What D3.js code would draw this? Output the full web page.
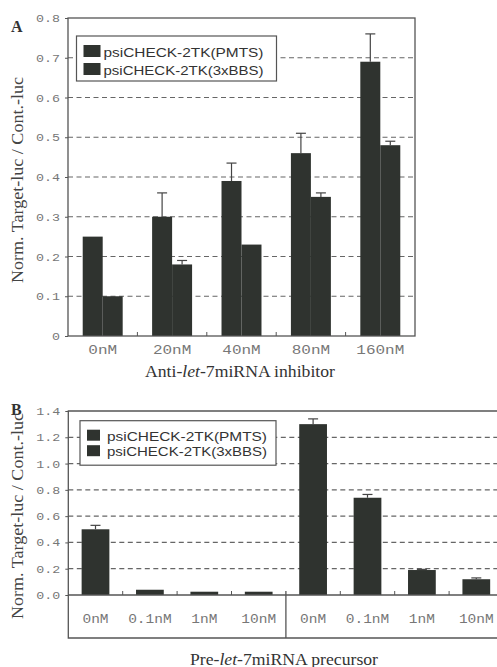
<!DOCTYPE html>
<html>
<head>
<meta charset="utf-8">
<script src="https://cdn.jsdelivr.net/npm/d3@7"></script>
<style>
  body { margin: 0; background: #fff; }
  svg { display: block; }
  .tick text { fill: #777; font-family: "Liberation Mono", monospace; }
</style>
</head>
<body>
<svg id="fig" width="497" height="667"></svg>
<script>
// panel A data
var catsA = ["0nM", "20nM", "40nM", "80nM", "160nM"];
var seriesNames = ["psiCHECK-2TK(PMTS)", "psiCHECK-2TK(3xBBS)"];
var pmtsA = [0.25, 0.30, 0.39, 0.46, 0.69];
var pmtsErrA = [0, 0.06, 0.045, 0.05, 0.07];
var bbsA = [0.10, 0.18, 0.23, 0.35, 0.48];
var bbsErrA = [0, 0.01, 0, 0.01, 0.01];
var ticksA = [0, 0.1, 0.2, 0.3, 0.4, 0.5, 0.6, 0.7, 0.8];

// panel B data (left four = PMTS, right four = 3xBBS)
var catsB = ["0nM", "0.1nM", "1nM", "10nM", "0nM", "0.1nM", "1nM", "10nM"];
var valsB = [0.50, 0.04, 0.025, 0.025, 1.30, 0.74, 0.19, 0.12];
var errB = [0.03, 0, 0, 0, 0.04, 0.025, 0.005, 0.01];
var ticksB = [0, 0.2, 0.4, 0.6, 0.8, 1.0, 1.2, 1.4];

var barColor = "#2f332f";
var lineColor = "#555";
var svg = d3.select("#fig");

function grid(g, y, ticks, x0, x1) {
  g.selectAll(".grid").data(ticks.slice(1, -1)).enter().append("line")
    .attr("x1", x0).attr("x2", x1)
    .attr("y1", function(d) { return y(d); }).attr("y2", function(d) { return y(d); })
    .attr("stroke", "#666").attr("stroke-width", 1.2).attr("stroke-dasharray", "5,3.5");
}

function legend(g, x, y, w, h, sq, gap) {
  g.append("rect").attr("x", x).attr("y", y).attr("width", w).attr("height", h)
    .attr("fill", "#fff").attr("stroke", lineColor).attr("stroke-width", 1.2);
  seriesNames.forEach(function(s, i) {
    g.append("rect").attr("x", x + 7).attr("y", y + 9 + i * gap)
      .attr("width", sq[0]).attr("height", sq[1]).attr("fill", barColor);
    g.append("text").attr("x", x + 27).attr("y", y + 9 + sq[1] + i * gap)
      .attr("font-family", "Liberation Sans, Arial, sans-serif").attr("font-size", 13.5)
      .attr("fill", "#333").attr("textLength", 160).attr("lengthAdjust", "spacingAndGlyphs")
      .text(s);
  });
}

function yLabel(cy) {
  svg.append("text").attr("transform", "translate(23," + cy + ") rotate(-90)")
    .attr("text-anchor", "middle").attr("font-family", "Liberation Serif, serif")
    .attr("font-size", 16).attr("fill", "#444")
    .attr("textLength", 206).attr("lengthAdjust", "spacingAndGlyphs")
    .text("Norm. Target-luc / Cont.-luc");
}

function xTitle(cx, yy, pre, post, len) {
  var t = svg.append("text").attr("x", cx).attr("y", yy).attr("text-anchor", "middle")
    .attr("font-family", "Liberation Serif, serif").attr("font-size", 16).attr("fill", "#333")
    .attr("textLength", len).attr("lengthAdjust", "spacingAndGlyphs");
  t.append("tspan").text(pre);
  t.append("tspan").attr("font-style", "italic").text("let");
  t.append("tspan").text(post);
}

function errBars(g, data, xc, y) {
  var e = g.selectAll(".err").data(data.filter(function(d) { return d.e > 0; })).enter();
  e.append("line").attr("x1", xc).attr("x2", xc)
    .attr("y1", function(d) { return y(d.v); }).attr("y2", function(d) { return y(d.v + d.e); })
    .attr("stroke", "#444").attr("stroke-width", 1.2);
  e.append("line").attr("x1", function(d) { return xc(d) - 5; }).attr("x2", function(d) { return xc(d) + 5; })
    .attr("y1", function(d) { return y(d.v + d.e); }).attr("y2", function(d) { return y(d.v + d.e); })
    .attr("stroke", "#444").attr("stroke-width", 1.2);
}

// ---------- Panel A ----------
(function() {
  var L = 68, R = 415, T = 18, B = 336;
  var x = d3.scaleBand().domain(catsA).range([L, R]).paddingInner(0.424).paddingOuter(0.212);
  var xs = d3.scaleBand().domain([0, 1]).range([0, x.bandwidth()]);
  var y = d3.scaleLinear().domain([0, 0.8]).range([B, T]);
  var g = svg.append("g");

  grid(g, y, ticksA, L, R);
  legend(g, 76.5, 36, 200, 45, [17, 12], 18);

  var data = [];
  catsA.forEach(function(c, i) {
    data.push({c: c, s: 0, v: pmtsA[i], e: pmtsErrA[i]});
    data.push({c: c, s: 1, v: bbsA[i], e: bbsErrA[i]});
  });
  g.selectAll(".bar").data(data).enter().append("rect")
    .attr("x", function(d) { return x(d.c) + xs(d.s); })
    .attr("y", function(d) { return y(d.v); })
    .attr("width", xs.bandwidth())
    .attr("height", function(d) { return B - y(d.v); })
    .attr("fill", barColor);
  errBars(g, data, function(d) { return x(d.c) + xs(d.s) + xs.bandwidth() / 2; }, y);

  // frame
  g.append("rect").attr("x", L).attr("y", T).attr("width", R - L).attr("height", B - T)
    .attr("fill", "none").attr("stroke", lineColor).attr("stroke-width", 1.3);
  // small ticks between groups
  g.selectAll(".sep").data(catsA.slice(1)).enter().append("line")
    .attr("x1", function(d) { return x(d) - x.step() * x.paddingInner() / 2; })
    .attr("x2", function(d) { return x(d) - x.step() * x.paddingInner() / 2; })
    .attr("y1", B).attr("y2", B - 4).attr("stroke", lineColor);

  var ya = g.append("g").attr("transform", "translate(" + L + ",0)")
    .call(d3.axisLeft(y).tickValues(ticksA).tickSize(3).tickPadding(5)
      .tickFormat(function(d) { return d === 0 ? "0" : d3.format(".1f")(d); }));
  ya.select(".domain").remove();
  ya.selectAll("line").attr("stroke", lineColor);
  ya.selectAll("text").attr("font-size", 11)
    .attr("textLength", function(d) { return d === 0 ? 8 : 24; }).attr("lengthAdjust", "spacingAndGlyphs");

  var xa = g.append("g").attr("transform", "translate(0," + B + ")")
    .call(d3.axisBottom(x).tickSize(0).tickPadding(9));
  xa.select(".domain").remove();
  xa.selectAll("text").attr("font-size", 12)
    .attr("textLength", function(d) { return d.length * 9.6; }).attr("lengthAdjust", "spacingAndGlyphs");

  svg.append("text").attr("x", 11).attr("y", 32).attr("font-family", "Liberation Serif, serif")
    .attr("font-weight", "bold").attr("font-size", 16).attr("fill", "#333").text("A");
  yLabel(180);
  xTitle(240, 377, "Anti-", "-7miRNA inhibitor", 190);
})();

// ---------- Panel B ----------
(function() {
  var L = 68.3, R = 503.5, T = 411, B = 595, FB = 638;
  var idx = d3.range(catsB.length);
  var x = d3.scaleBand().domain(idx).range([L, R]).paddingInner(0.49).paddingOuter(0.245);
  var y = d3.scaleLinear().domain([0, 1.4]).range([B, T]);
  var g = svg.append("g");

  grid(g, y, ticksB, L, R);
  legend(g, 80, 420.7, 196, 44.5, [13, 11], 15.5);

  var data = idx.map(function(i) { return {i: i, v: valsB[i], e: errB[i]}; });
  g.selectAll(".bar").data(data).enter().append("rect")
    .attr("x", function(d) { return x(d.i); })
    .attr("y", function(d) { return y(d.v); })
    .attr("width", x.bandwidth())
    .attr("height", function(d) { return B - y(d.v); })
    .attr("fill", barColor);
  errBars(g, data, function(d) { return x(d.i) + x.bandwidth() / 2; }, y);

  // frame (right edge runs off the page)
  g.append("path")
    .attr("d", "M" + R + "," + T + "H" + L + "V" + FB + "H" + R + "M" + L + "," + B + "H" + R)
    .attr("fill", "none").attr("stroke", lineColor).attr("stroke-width", 1.3);
  g.selectAll(".sep").data(idx.slice(1)).enter().append("line")
    .attr("x1", function(d) { return x(d) - x.step() * x.paddingInner() / 2; })
    .attr("x2", function(d) { return x(d) - x.step() * x.paddingInner() / 2; })
    .attr("y1", function(d) { return d === 4 ? FB : B; }).attr("y2", B - 4)
    .attr("stroke", lineColor).attr("stroke-width", function(d) { return d === 4 ? 1.3 : 1; });

  var ya = g.append("g").attr("transform", "translate(" + L + ",0)")
    .call(d3.axisLeft(y).tickValues(ticksB).tickSize(3).tickPadding(5).tickFormat(d3.format(".1f")));
  ya.select(".domain").remove();
  ya.selectAll("line").attr("stroke", lineColor);
  ya.selectAll("text").attr("font-size", 11).attr("textLength", 24).attr("lengthAdjust", "spacingAndGlyphs");

  var xa = g.append("g").attr("transform", "translate(0," + B + ")")
    .call(d3.axisBottom(x).tickSize(0).tickPadding(19).tickFormat(function(i) { return catsB[i]; }));
  xa.select(".domain").remove();
  xa.selectAll("text").attr("font-size", 12)
    .attr("textLength", function(i) { return catsB[i].length * 8.7; }).attr("lengthAdjust", "spacingAndGlyphs");

  svg.append("text").attr("x", 11).attr("y", 415).attr("font-family", "Liberation Serif, serif")
    .attr("font-weight", "bold").attr("font-size", 16).attr("fill", "#333").text("B");
  yLabel(516);
  xTitle(284, 665, "Pre-", "-7miRNA precursor", 188);
})();
</script>
</body>
</html>
